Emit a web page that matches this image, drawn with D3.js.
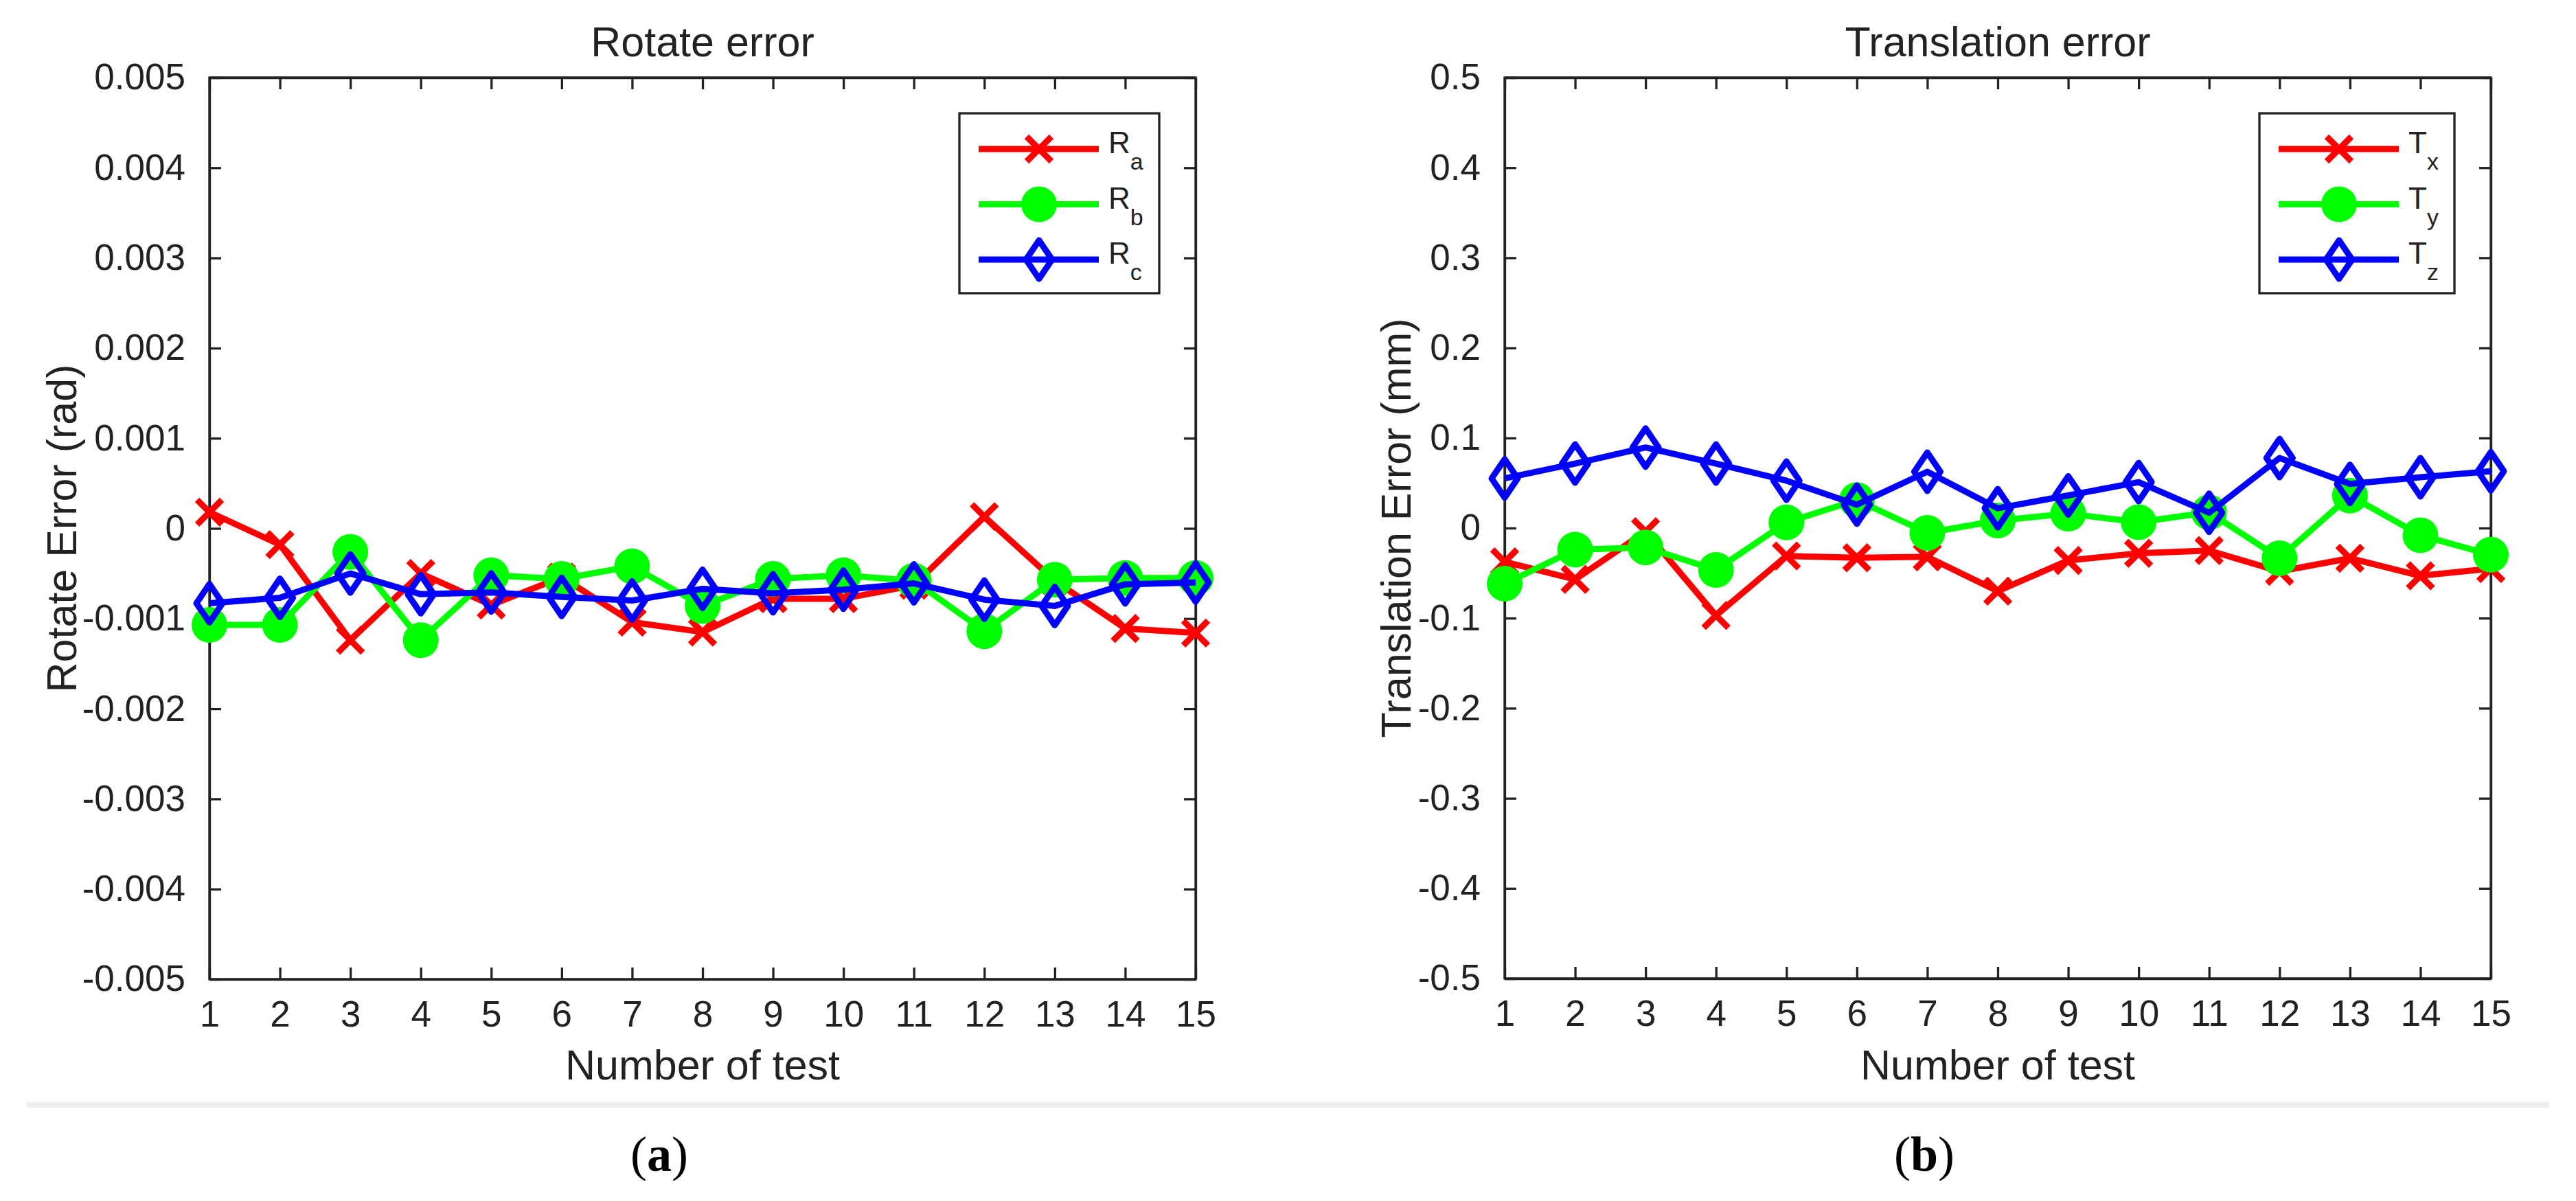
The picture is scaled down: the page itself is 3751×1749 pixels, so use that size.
<!DOCTYPE html>
<html>
<head>
<meta charset="utf-8">
<script src="https://cdn.jsdelivr.net/npm/d3@7"></script>
<style>
  html, body { margin: 0; padding: 0; background: #fff; }
  svg text { font-family: "Liberation Sans", Arial, sans-serif; fill: #222; }
</style>
</head>
<body>
<div id="chart"></div>
<script>
// ---- data ----
const tests = [1, 2, 3, 4, 5, 6, 7, 8, 9, 10, 11, 12, 13, 14, 15];

const rotTicks = [-0.005, -0.004, -0.003, -0.002, -0.001, 0, 0.001, 0.002, 0.003, 0.004, 0.005];
const rotTickLabels = ["-0.005", "-0.004", "-0.003", "-0.002", "-0.001", "0", "0.001", "0.002", "0.003", "0.004", "0.005"];
const Ra = [0.00018, -0.00018, -0.00124, -0.00050, -0.00085, -0.00054, -0.00104, -0.00115, -0.00078, -0.00078, -0.00063, 0.00013, -0.00058, -0.00111, -0.00116];
const Rb = [-0.00107, -0.00107, -0.00026, -0.00124, -0.00052, -0.00056, -0.00042, -0.00086, -0.00056, -0.00052, -0.00058, -0.00114, -0.00057, -0.00055, -0.00055];
const Rc = [-0.00083, -0.00077, -0.00050, -0.00073, -0.00071, -0.00076, -0.00080, -0.00067, -0.00072, -0.00068, -0.00061, -0.00079, -0.00086, -0.00062, -0.00060];

const transTicks = [-0.5, -0.4, -0.3, -0.2, -0.1, 0, 0.1, 0.2, 0.3, 0.4, 0.5];
const transTickLabels = ["-0.5", "-0.4", "-0.3", "-0.2", "-0.1", "0", "0.1", "0.2", "0.3", "0.4", "0.5"];
const Tx = [-0.0375, -0.057, -0.004, -0.097, -0.031, -0.033, -0.032, -0.070, -0.036, -0.028, -0.025, -0.048, -0.0335, -0.053, -0.045];
const Ty = [-0.0617, -0.024, -0.0215, -0.0465, 0.0063, 0.031, -0.0053, 0.0084, 0.016, 0.0065, 0.0175, -0.0335, 0.036, -0.008, -0.0296];
const Tz = [0.0551, 0.0716, 0.0894, 0.0716, 0.0526, 0.026, 0.0625, 0.022, 0.0362, 0.051, 0.017, 0.0777, 0.049, 0.0564, 0.063];

const W = 3751, H = 1749;
const ink = "#222";
const lineW = 9;

const svg = d3.select("#chart").append("svg")
  .attr("width", W)
  .attr("height", H);

// marker shapes
function drawMarker(g, kind, color) {
  if (kind == "x") {
    const h = 18;
    g.append("path")
      .attr("d", `M${-h},${-h}L${h},${h}M${-h},${h}L${h},${-h}`)
      .attr("stroke", color).attr("stroke-width", 9).attr("fill", "none");
  } else if (kind == "o") {
    g.append("circle").attr("r", 26).attr("fill", color);
  } else {
    g.append("path")
      .attr("d", "M0,-28L19,0L0,28L-19,0Z")
      .attr("stroke", color).attr("stroke-width", 9).attr("fill", "none")
      .attr("stroke-linejoin", "round");
  }
}

function plotPanel(p) {
  const g = svg.append("g");

  const x = d3.scaleLinear().domain([1, 15]).range([p.left, p.right]);
  const y = d3.scaleLinear().domain([p.ticks[0], p.ticks[p.ticks.length - 1]]).range([p.bottom, p.top]);

  // axes on all four sides, ticks pointing inward
  g.append("g")
    .attr("transform", `translate(0,${p.bottom})`)
    .call(d3.axisBottom(x).tickValues(tests).tickSizeInner(-17).tickSizeOuter(0).tickPadding(31).tickFormat(d3.format("d")));
  g.append("g")
    .attr("transform", `translate(0,${p.top})`)
    .call(d3.axisTop(x).tickValues(tests).tickSizeInner(-17).tickSizeOuter(0).tickFormat(""));
  g.append("g")
    .attr("transform", `translate(${p.left},0)`)
    .call(d3.axisLeft(y).tickValues(p.ticks).tickSizeInner(-17).tickSizeOuter(0).tickPadding(35)
      .tickFormat((d, i) => p.tickLabels[i]));
  g.append("g")
    .attr("transform", `translate(${p.right},0)`)
    .call(d3.axisRight(y).tickValues(p.ticks).tickSizeInner(-17).tickSizeOuter(0).tickFormat(""));

  g.selectAll(".domain").attr("stroke", ink).attr("stroke-width", 3.3);
  g.selectAll(".tick line").attr("stroke", ink).attr("stroke-width", 3.3);
  g.selectAll(".tick text").attr("font-size", 53).attr("fill", ink)
    .attr("font-family", "Liberation Sans, Arial, sans-serif");

  // box outline
  g.append("rect")
    .attr("x", p.left).attr("y", p.top)
    .attr("width", p.right - p.left).attr("height", p.bottom - p.top)
    .attr("fill", "none").attr("stroke", ink).attr("stroke-width", 3.3);

  // series: line and markers drawn together, in plot order
  p.series.forEach(s => {
    const line = d3.line().x((d, i) => x(tests[i])).y(d => y(d));
    g.append("path")
      .datum(s.values)
      .attr("d", line)
      .attr("fill", "none")
      .attr("stroke", s.color)
      .attr("stroke-width", lineW)
      .attr("stroke-linejoin", "round");
    s.values.forEach((v, i) => {
      const m = g.append("g").attr("transform", `translate(${x(tests[i])},${y(v)})`);
      drawMarker(m, s.marker, s.color);
    });
  });

  // titles and labels
  const cx = (p.left + p.right) / 2;
  g.append("text").attr("x", cx).attr("y", 82).attr("text-anchor", "middle")
    .attr("font-size", 61).text(p.title);
  g.append("text").attr("x", cx).attr("y", 1572).attr("text-anchor", "middle")
    .attr("font-size", 61).text("Number of test");
  g.append("text")
    .attr("transform", `translate(${p.ylabelX},${(p.top + p.bottom) / 2}) rotate(-90)`)
    .attr("text-anchor", "middle")
    .attr("font-size", 61).text(p.ylabel);

  // legend
  const lx = p.right - 53 - p.legendW, ly = p.top + 52;
  const lg = g.append("g").attr("transform", `translate(${lx},${ly})`);
  lg.append("rect").attr("width", p.legendW).attr("height", 262)
    .attr("fill", "#fff").attr("stroke", ink).attr("stroke-width", 3.3);
  p.series.forEach((s, i) => {
    const ry = 52 + i * 80.5;
    lg.append("line").attr("x1", 28).attr("x2", 203).attr("y1", ry).attr("y2", ry)
      .attr("stroke", s.color).attr("stroke-width", lineW);
    drawMarker(lg.append("g").attr("transform", `translate(116,${ry})`), s.marker, s.color);
    const t = lg.append("text").attr("x", 217).attr("y", ry + 6).attr("font-size", 44);
    t.append("tspan").text(s.name[0]);
    t.append("tspan").attr("dy", 24).attr("font-size", 34).text(s.name[1]);
  });

  // panel caption
  const cap = svg.append("text").attr("x", p.captionX).attr("y", 1705)
    .attr("text-anchor", "middle").attr("font-size", 72)
    .style("font-family", "Liberation Serif, Times New Roman, serif").style("fill", "#000");
  cap.append("tspan").text("(");
  cap.append("tspan").attr("font-weight", "bold").text(p.caption);
  cap.append("tspan").text(")");
}

// separator line above the captions
svg.append("rect").attr("x", 39).attr("y", 1605).attr("width", 3673).attr("height", 8).attr("fill", "#efefef");

plotPanel({
  left: 305, right: 1741, top: 113, bottom: 1426,
  ticks: rotTicks, tickLabels: rotTickLabels,
  title: "Rotate error", ylabel: "Rotate Error (rad)", ylabelX: 111,
  legendW: 291, caption: "a", captionX: 960,
  series: [
    { name: ["R", "a"], values: Ra, color: "#ff0000", marker: "x" },
    { name: ["R", "b"], values: Rb, color: "#00ff00", marker: "o" },
    { name: ["R", "c"], values: Rc, color: "#0000ff", marker: "d" }
  ]
});

plotPanel({
  left: 2191, right: 3627, top: 113, bottom: 1425,
  ticks: transTicks, tickLabels: transTickLabels,
  title: "Translation error", ylabel: "Translation Error (mm)", ylabelX: 2054,
  legendW: 284, caption: "b", captionX: 2802,
  series: [
    { name: ["T", "x"], values: Tx, color: "#ff0000", marker: "x" },
    { name: ["T", "y"], values: Ty, color: "#00ff00", marker: "o" },
    { name: ["T", "z"], values: Tz, color: "#0000ff", marker: "d" }
  ]
});
</script>
</body>
</html>
